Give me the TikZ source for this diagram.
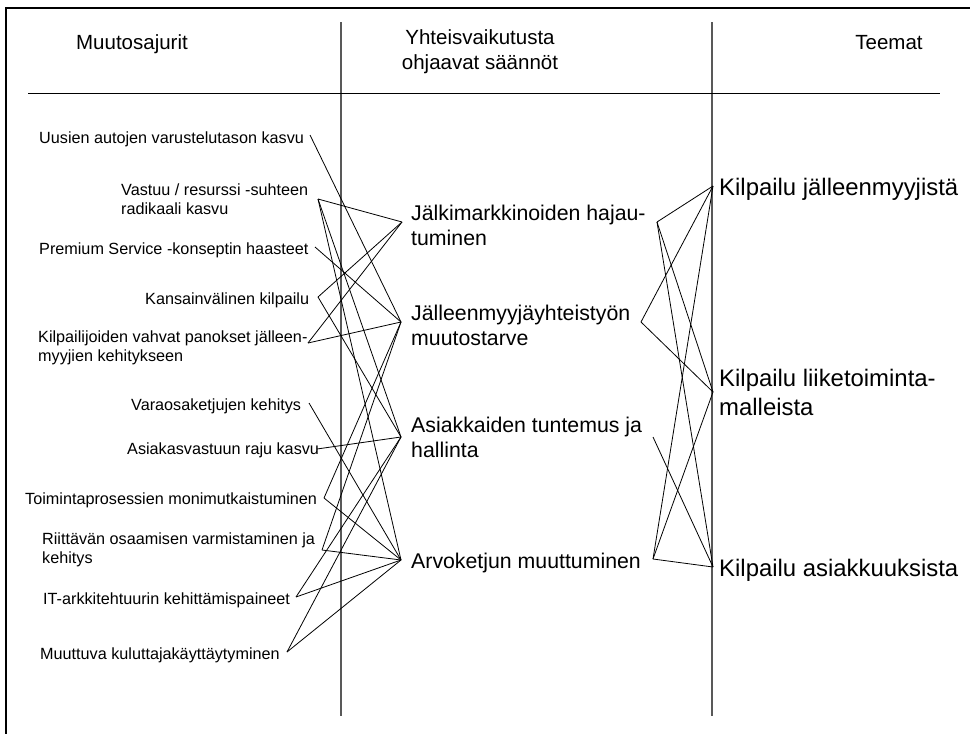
\documentclass[tikz,border=0pt]{standalone}
\usepackage{fontspec}
\setmainfont{Liberation Sans}
% two stacked lines whose baseline is the first line
\newcommand\twoline[2]{\vtop{\hbox{#1}\hbox{#2}}}
\newcommand\twocenter[2]{\vtop{\halign{\hfil##\hfil\cr #1\cr #2\cr}}}
\begin{document}
\begin{tikzpicture}[x=1pt,y=-1pt,
  driver/.style={anchor=base west, inner sep=0pt, font=\fontsize{16.2}{19.5}\selectfont},
  rulebox/.style={anchor=base west, inner sep=0pt, font=\fontsize{21.3}{25}\selectfont},
  theme/.style={anchor=base west, inner sep=0pt, font=\fontsize{23.9}{29}\selectfont},
  head/.style={anchor=base, inner sep=0pt, font=\fontsize{20.5}{25}\selectfont},
  link/.style={line width=0.8pt, black},
  divider/.style={line width=1.3pt, black!65},
  headrule/.style={line width=1pt, black},
  frameline/.style={line width=2.6pt, black}]

\useasboundingbox (0,0) rectangle (970,734);
\fill[white] (0,0) rectangle (970,734);

% outer frame (top and left edges)
\draw[frameline] (6,734) -- (6,8) -- (970,8);

% column headers
\node[head] (h1) at (132,49) {Muutosajurit};
\node[head] (h2) at (480,44) {\twocenter{Yhteisvaikutusta}{ohjaavat säännöt}};
\node[head] (h3) at (889,49) {Teemat};

% column dividers and header rule
\coordinate (v1a) at (341,22);  \coordinate (v1b) at (341,716);
\coordinate (v2a) at (712,22);  \coordinate (v2b) at (712,716);
\coordinate (hra) at (28,93);   \coordinate (hrb) at (940,93);
\draw[divider] (v1a) -- (v1b);
\draw[divider] (v2a) -- (v2b);
\draw[headrule] (hra) -- (hrb);

% change drivers
\node[driver] (l1)  at (39,143)  {Uusien autojen varustelutason kasvu};
\node[driver] (l2)  at (121,195) {\twoline{Vastuu / resurssi -suhteen}{radikaali kasvu}};
\node[driver] (l3)  at (39,254)  {Premium Service -konseptin haasteet};
\node[driver] (l4)  at (145,304) {Kansainvälinen kilpailu};
\node[driver] (l5)  at (38,342)  {\twoline{Kilpailijoiden vahvat panokset jälleen-}{myyjien kehitykseen}};
\node[driver] (l6)  at (131,410) {Varaosaketjujen kehitys};
\node[driver] (l7)  at (127,454) {Asiakasvastuun raju kasvu};
\node[driver] (l8)  at (25,504)  {Toimintaprosessien monimutkaistuminen};
\node[driver] (l9)  at (42,544)  {\twoline{Riittävän osaamisen varmistaminen ja}{kehitys}};
\node[driver] (l10) at (43,604)  {IT-arkkitehtuurin kehittämispaineet};
\node[driver] (l11) at (40,659)  {Muuttuva kuluttajakäyttäytyminen};

\coordinate (d1)  at (310,135);
\coordinate (d2)  at (318,199);
\coordinate (d3)  at (315,247);
\coordinate (d4)  at (318,297);
\coordinate (d5)  at (308,343);
\coordinate (d6)  at (309,403);
\coordinate (d7)  at (317,449);
\coordinate (d8)  at (324,498);
\coordinate (d9)  at (322,550);
\coordinate (d10) at (296,597);
\coordinate (d11) at (287,652);

% interaction rules
\node[rulebox] (m1) at (411,220) {\twoline{Jälkimarkkinoiden hajau-}{tuminen}};
\node[rulebox] (m2) at (411,320) {\twoline{Jälleenmyyjäyhteistyön}{muutostarve}};
\node[rulebox] (m3) at (411,432) {\twoline{Asiakkaiden tuntemus ja}{hallinta}};
\node[rulebox] (m4) at (411,568) {Arvoketjun muuttuminen};

\coordinate (ml1) at (402,222);  \coordinate (mr1) at (657,222);
\coordinate (ml2) at (401,322);  \coordinate (mr2) at (641,322);
\coordinate (ml3) at (401,437);  \coordinate (mr3) at (653,437);
\coordinate (ml4) at (401,560);  \coordinate (mr4) at (653,559);

% themes
\node[theme] (t1) at (719,195) {Kilpailu jälleenmyyjistä};
\node[theme] (t2) at (719,386) {\twoline{Kilpailu liiketoiminta-}{malleista}};
\node[theme] (t3) at (719,576) {Kilpailu asiakkuuksista};

\coordinate (tp1) at (713,186);
\coordinate (tp2) at (713,392);
\coordinate (tp3) at (713,567);

% drivers -> rules
\draw[link] (d1) -- (ml2);
\draw[link] (d2) -- (ml1);
\draw[link] (d2) -- (ml3);
\draw[link] (d2) -- (ml4);
\draw[link] (d3) -- (ml2);
\draw[link] (d4) -- (ml1);
\draw[link] (d4) -- (ml3);
\draw[link] (d5) -- (ml1);
\draw[link] (d5) -- (ml2);
\draw[link] (d6) -- (ml4);
\draw[link] (d7) -- (ml3);
\draw[link] (d8) -- (ml2);
\draw[link] (d8) -- (ml4);
\draw[link] (d9) -- (ml2);
\draw[link] (d9) -- (ml4);
\draw[link] (d10) -- (ml3);
\draw[link] (d10) -- (ml4);
\draw[link] (d11) -- (ml3);
\draw[link] (d11) -- (ml4);

% rules -> themes
\draw[link] (mr1) -- (tp1);
\draw[link] (mr1) -- (tp2);
\draw[link] (mr1) -- (tp3);
\draw[link] (mr2) -- (tp1);
\draw[link] (mr2) -- (tp2);
\draw[link] (mr3) -- (tp3);
\draw[link] (mr4) -- (tp1);
\draw[link] (mr4) -- (tp2);
\draw[link] (mr4) -- (tp3);
\end{tikzpicture}
\end{document}
